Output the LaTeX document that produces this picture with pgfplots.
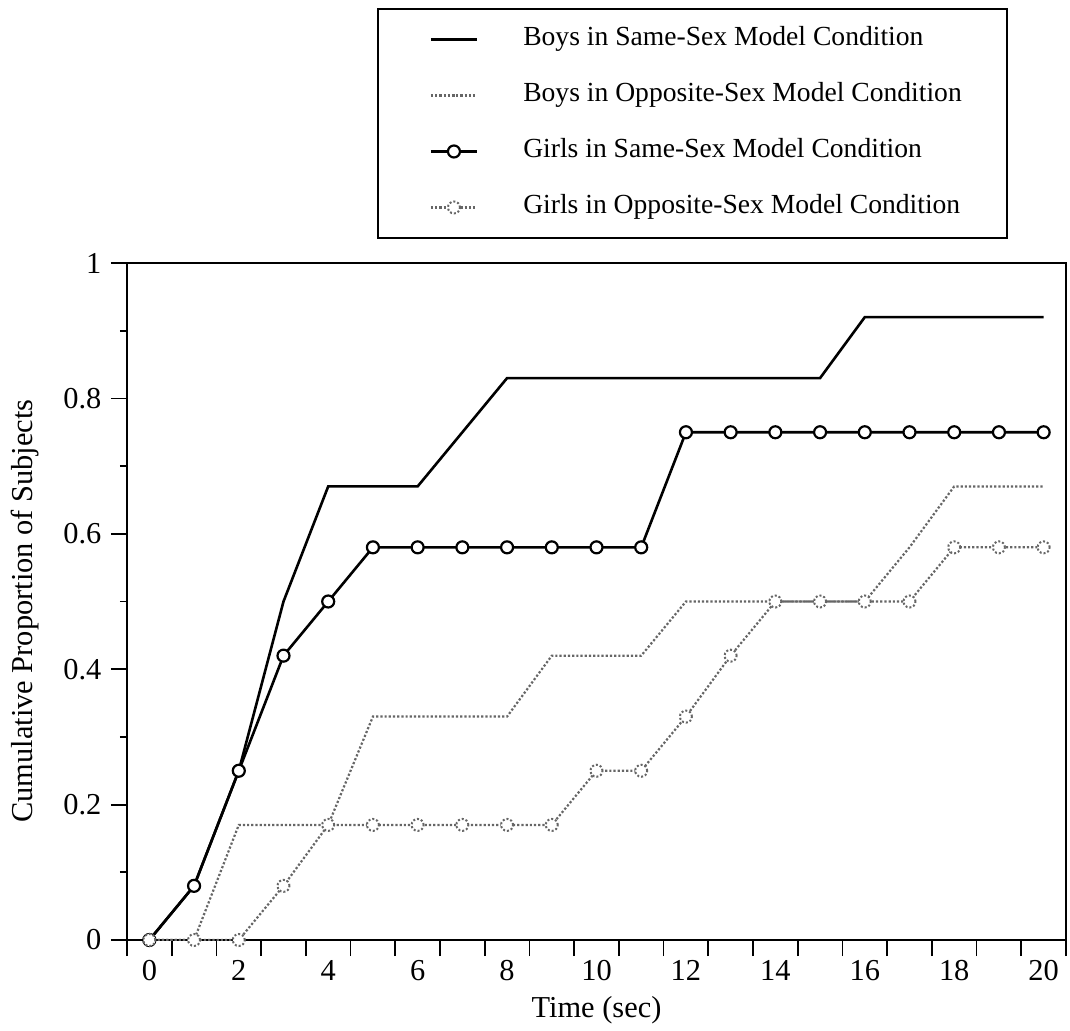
\documentclass[border=0pt]{standalone}
\usepackage{pgfplots}
\pgfplotsset{compat=1.18}
\usepackage{fontspec}
\setmainfont{Liberation Serif}
\begin{document}
\fontsize{13.8}{16.5}\selectfont
\begin{tikzpicture}
\begin{axis}[
  at={(0,0)}, anchor=south west,
  scale only axis, width=469.5pt, height=338.5pt,
  xmin=-0.5, xmax=20.5, ymin=0, ymax=1,
  axis line style={line width=1pt},
  every tick/.style={black, line width=0.9pt},
  tick align=outside,
  major tick length=8pt, minor tick length=3.5pt,
  tick label style={font=\fontsize{15.2}{18}\selectfont},
  label style={font=\fontsize{15.2}{18}\selectfont},
  xticklabel style={yshift=2.5pt},
  xtick={-0.5,0.5,...,20.5},
  x tick label as interval=true,
  xticklabels={0,{},2,{},4,{},6,{},8,{},10,{},12,{},14,{},16,{},18,{},20,{}},
  ytick={0,0.2,0.4,0.6,0.8,1},
  yticklabels={0,0.2,0.4,0.6,0.8,1},
  minor y tick num=1,
  xtick pos=bottom, ytick pos=left,
  /pgf/number format/assume math mode=true,
  xlabel={Time (sec)},
  ylabel={Cumulative Proportion of Subjects},
  xlabel style={at={(axis description cs:0.5,-0.1034)}, anchor=center},
  ylabel style={at={(axis description cs:-0.1086,0.486)}, anchor=center, rotate=0},
  legend style={at={(axis description cs:0.2662,1.3767)}, anchor=north west,
    draw=black, line width=1pt, inner xsep=22.5pt, inner ysep=9pt,
    row sep=15.5pt, column sep=22.5pt,
    nodes={inner sep=0pt, text height=9.5pt, text depth=3pt, anchor=west},
    legend cell align=left},
  legend image code/.code={\path[draw=none] (0pt,0pt) -- (4pt,0pt);
    \draw[mark repeat=2,mark phase=2,#1] plot coordinates {(4pt,0pt) (15.5pt,0pt) (27pt,0pt)};},
]
\addplot[black, line width=1.3pt] coordinates {
(0,0) (1,0.08) (2,0.25) (3,0.50) (4,0.67) (5,0.67) (6,0.67) (7,0.75) (8,0.83) (9,0.83) (10,0.83)
(11,0.83) (12,0.83) (13,0.83) (14,0.83) (15,0.83) (16,0.92) (17,0.92) (18,0.92) (19,0.92) (20,0.92)};
\addlegendentry{Boys in Same-Sex Model Condition}
\addplot[black!60, line width=1.1pt, densely dotted] coordinates {
(0,0) (1,0) (2,0.17) (3,0.17) (4,0.17) (5,0.33) (6,0.33) (7,0.33) (8,0.33) (9,0.42) (10,0.42)
(11,0.42) (12,0.50) (13,0.50) (14,0.50) (15,0.50) (16,0.50) (17,0.58) (18,0.67) (19,0.67) (20,0.67)};
\addlegendentry{Boys in Opposite-Sex Model Condition}
\addplot[black, line width=1.3pt, mark=*, mark size=3pt, mark options={fill=white, line width=1.1pt, solid}] coordinates {
(0,0) (1,0.08) (2,0.25) (3,0.42) (4,0.50) (5,0.58) (6,0.58) (7,0.58) (8,0.58) (9,0.58) (10,0.58)
(11,0.58) (12,0.75) (13,0.75) (14,0.75) (15,0.75) (16,0.75) (17,0.75) (18,0.75) (19,0.75) (20,0.75)};
\addlegendentry{Girls in Same-Sex Model Condition}
\addplot[black!60, line width=1.1pt, densely dotted, mark=*, mark size=3pt, mark options={fill=white, line width=1pt, densely dotted}] coordinates {
(0,0) (1,0) (2,0) (3,0.08) (4,0.17) (5,0.17) (6,0.17) (7,0.17) (8,0.17) (9,0.17) (10,0.25)
(11,0.25) (12,0.33) (13,0.42) (14,0.50) (15,0.50) (16,0.50) (17,0.50) (18,0.58) (19,0.58) (20,0.58)};
\addlegendentry{Girls in Opposite-Sex Model Condition}
\end{axis}
\pgfresetboundingbox
\path (-63.5pt,-45pt) rectangle (471.5pt,470pt);
\end{tikzpicture}
\end{document}
